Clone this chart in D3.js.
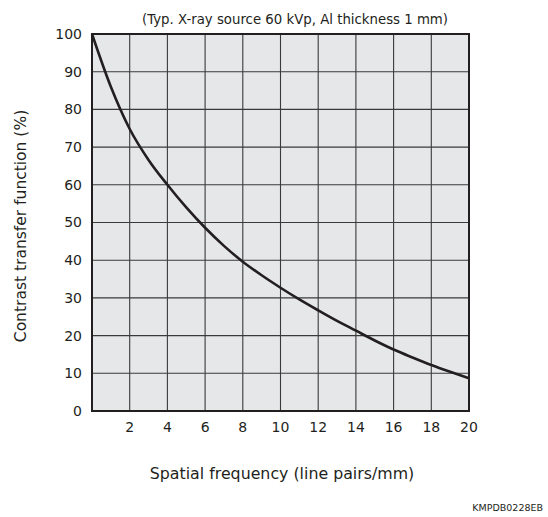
<!DOCTYPE html>
<html><head><meta charset="utf-8">
<script src="https://cdn.jsdelivr.net/npm/d3@7"></script>
<style>body{margin:0;background:#fff}</style>
</head><body>
<svg id="c" width="548" height="517"></svg>
<script>
const freq = [0,1,2,3,4,5,6,7,8,9,10,11,12,13,14,15,16,17,18,19,20];
const ctf  = [100,86,74.8,66.6,60,54,48.6,43.8,39.6,36,32.7,29.6,26.7,23.9,21.3,18.7,16.3,14.2,12.2,10.4,8.7];
const xTicks = [2,4,6,8,10,12,14,16,18,20];
const yTicks = [0,10,20,30,40,50,60,70,80,90,100];
const title = "(Typ. X-ray source 60 kVp, Al thickness 1 mm)";
const xLabel = "Spatial frequency (line pairs/mm)";
const yLabel = "Contrast transfer function (%)";
const code = "KMPDB0228EB";

const svg = d3.select("#c");
const F = "DejaVu Sans, Verdana, sans-serif";
const L=92, R=469, T=34, B=411;
const x = d3.scaleLinear().domain([0,20]).range([L,R]);
const y = d3.scaleLinear().domain([0,100]).range([B,T]);

svg.append("rect").attr("x",L).attr("y",T).attr("width",R-L).attr("height",B-T).attr("fill","#e6e7e8");
// grid
svg.append("g").selectAll("line").data(xTicks).join("line")
  .attr("x1",d=>x(d)).attr("x2",d=>x(d)).attr("y1",T).attr("y2",B)
  .attr("stroke","#3a3a3a").attr("stroke-width",1.1);
svg.append("g").selectAll("line").data(yTicks).join("line")
  .attr("x1",L).attr("x2",R).attr("y1",d=>y(d)).attr("y2",d=>y(d))
  .attr("stroke","#3a3a3a").attr("stroke-width",1.1);
svg.append("rect").attr("x",L).attr("y",T).attr("width",R-L).attr("height",B-T)
  .attr("fill","none").attr("stroke","#231f20").attr("stroke-width",2);

// curve
svg.append("path").datum(freq.map((f,i)=>[f,ctf[i]]))
  .attr("d",d3.line().x(d=>x(d[0])).y(d=>y(d[1])).curve(d3.curveMonotoneX))
  .attr("fill","none").attr("stroke","#231f20").attr("stroke-width",2.6);

// axes tick labels
svg.append("g").selectAll("text").data(yTicks).join("text")
  .attr("x",L-10).attr("y",d=>y(d)).attr("dy","0.35em").attr("text-anchor","end")
  .attr("font-family",F).attr("font-size",14).attr("fill","#231f20").text(d=>d);
svg.append("g").selectAll("text").data(xTicks).join("text")
  .attr("x",d=>x(d)).attr("y",B+21).attr("text-anchor","middle")
  .attr("font-family",F).attr("font-size",14).attr("fill","#231f20").text(d=>d);

svg.append("text").attr("x",448).attr("y",24).attr("text-anchor","end")
  .attr("font-family",F).attr("font-size",13.3).attr("fill","#231f20").text(title);
svg.append("text").attr("x",282).attr("y",479).attr("text-anchor","middle")
  .attr("font-family",F).attr("font-size",15.8).attr("fill","#231f20").text(xLabel);
svg.append("text").attr("transform","translate(26,226) rotate(-90)").attr("text-anchor","middle")
  .attr("font-family",F).attr("font-size",15.5).attr("fill","#231f20").text(yLabel);
svg.append("text").attr("x",543).attr("y",511).attr("text-anchor","end")
  .attr("font-family",F).attr("font-size",9.5).attr("fill","#231f20").text(code);
</script>
</body></html>
